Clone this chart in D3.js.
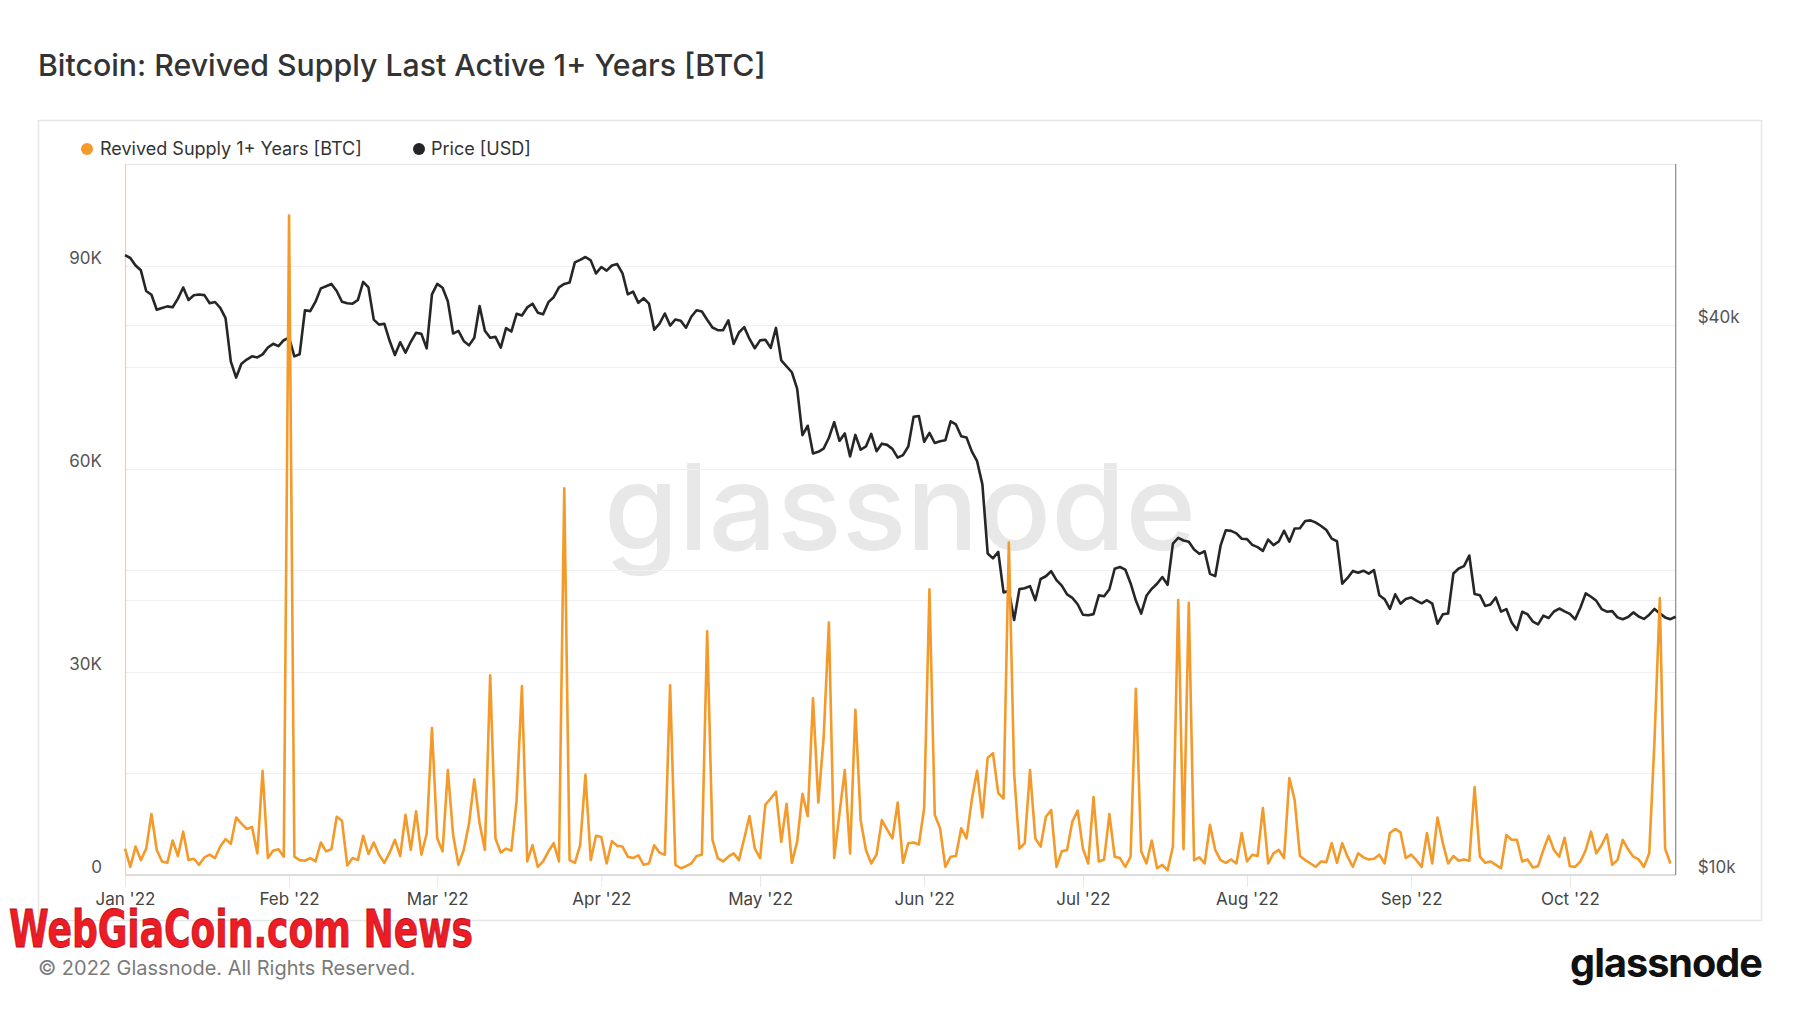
<!DOCTYPE html>
<html><head><meta charset="utf-8">
<script src="https://cdn.jsdelivr.net/npm/d3@7"></script>
<style>
body{margin:0;background:#fff;}
svg{display:block;font-family:Inter,"Noto Sans",sans-serif;}
</style>
</head><body>
<svg id="c" width="1800" height="1013"></svg>
<script>
// ---------------- DATA ----------------
const startDate = "2022-01-01";
// Revived Supply Last Active 1+ Years [BTC], daily from 2022-01-01
const revivedSupply = [
3900,1200,4200,2200,3900,9000,3700,2000,1800,5100,2800,6400,2200,2400,1500,2600,3000,2500,4200,5300,4600,8500,7600,6800,7100,3200,15400,2500,3600,3800,2700,
97400,2700,2200,2100,2500,2000,4800,3500,3800,8600,8000,1400,2500,2200,5800,3100,4800,3000,1800,3300,5200,2800,8900,3700,9400,3000,6100,21700,
5400,3500,15500,5900,1500,3700,7600,14100,7600,3700,29500,5400,3300,3900,3600,11100,27900,2000,4400,1200,2000,3500,4700,2000,57100,2200,1800,4400,14800,2200,5800,
5600,1700,5000,4300,4200,2700,2500,2900,1500,1700,4400,3300,3000,28000,1500,1000,1300,1700,2800,3000,36000,5200,2500,2000,2700,3200,2200,5400,8700,3900,
2500,10400,11300,12300,4900,10500,1800,4900,12000,8700,26100,10700,20200,37300,2500,9100,15500,3200,24400,8100,3700,1700,3000,8100,6700,5400,10700,1800,4700,4800,4500,
9900,42200,8900,6900,1200,2700,2800,6900,5400,11100,15400,8500,17300,18000,12100,11300,49100,15000,3900,4700,15500,5400,4200,8600,9600,1200,3500,3700,7900,9500,
3900,1700,11500,2000,2300,9000,2700,2500,1200,2700,27500,3500,1700,5100,1000,1500,700,4200,40600,3800,40200,2200,2600,1700,7400,3700,2200,1800,2300,1700,6200,
2000,3000,2800,9900,1700,3200,3700,2500,14300,11100,2800,2200,1700,1200,2000,1900,4700,1800,4700,2700,1200,3200,2600,2300,2400,3000,1700,6200,6800,6300,2500,
3000,2200,1200,6200,1700,8500,4700,1700,2800,2100,2300,2100,13000,2700,1800,2000,1500,1000,5900,5200,5200,2000,2300,1100,1300,3700,5800,3700,2700,5500,
1300,1200,2000,3700,6400,3200,4400,6000,1500,2200,5200,3800,2700,2300,1200,3200,20000,40900,3900,1700
];
// Price [USD], daily from 2022-01-01
const priceUSD = [
47686,47345,46458,45897,43569,43160,41558,41734,41912,41822,42736,43949,42591,43099,43177,43113,42250,42375,41744,40681,36458,35030,36276,36654,36954,36852,37138,37784,38138,37917,38483,
38743,36952,37154,41501,41412,42406,43854,44096,44348,43566,42407,42244,42197,42586,44575,43961,40538,40030,40122,38432,37075,38286,37296,38332,39214,39105,37710,43194,
44355,43925,42452,39137,39400,38420,37988,38730,41942,39422,38730,38808,37777,39672,39338,41143,40951,41801,42191,41248,41078,42358,42893,43961,44348,44500,46820,47128,47465,47063,45539,
46281,45868,46453,46622,45555,43206,43503,42287,42782,42207,39521,40127,41166,39935,40553,40424,39716,40826,41502,41374,40527,39740,39478,39470,40458,38117,39241,39773,38609,37714,
38469,38529,37750,39698,36575,36040,35501,34059,30296,31023,28936,29047,29283,30101,31306,29863,30425,28720,30315,29201,29445,30397,29098,29655,29562,29267,28627,28814,29445,31726,31792,
29799,30467,29704,29833,29907,31371,31125,30214,30112,29084,28374,26762,22487,22206,22572,20382,20471,19018,20553,20599,20711,19987,21085,21231,21502,21028,20735,20280,20104,19785,
19269,19243,19297,20231,20190,20548,21637,21731,21592,20860,19970,19323,20212,20569,20836,21190,20779,23050,23389,23231,23164,22714,22465,22609,21361,21239,22930,23843,23804,23656,23336,
23314,22978,22846,22630,23289,22961,23175,23810,23164,23948,23957,24403,24442,24305,24095,23854,23342,23191,20834,21141,21517,21416,21529,21368,21560,20241,20037,19555,20285,19812,20050,
20127,19969,19832,19986,19813,18837,19290,19329,21382,21652,21780,22371,20297,20242,19701,19772,20127,19420,19545,18891,18547,19413,19297,18937,18803,19222,19110,19426,19573,19432,
19312,19044,19623,20336,20161,19955,19546,19417,19446,19141,19051,19157,19382,19185,19067,19268,19550,19334,19139,19053,19172
];
const monthTicks = ["2022-01-01","2022-02-01","2022-03-01","2022-04-01","2022-05-01","2022-06-01","2022-07-01","2022-08-01","2022-09-01","2022-10-01"];
const monthLabels = ["Jan '22","Feb '22","Mar '22","Apr '22","May '22","Jun '22","Jul '22","Aug '22","Sep '22","Oct '22"];
const leftTicks = [0, 30000, 60000, 90000];
const leftTickLabels = ["0", "30K", "60K", "90K"];
const leftGrid = [15000, 30000, 45000, 60000, 75000, 90000];
const rightTicks = [10000, 40000];
const rightTickLabels = ["$10k", "$40k"];
const rightGrid = [20000, 40000];
const seriesNames = ["Revived Supply 1+ Years [BTC]", "Price [USD]"];

// ---------------- LAYOUT ----------------
const plot = {left: 125, right: 1675.7, top: 164, bottom: 875};
const ORANGE = "#f39a2b", BLACK = "#262626";

const svg = d3.select("#c");
const t0 = new Date(startDate + "T00:00:00Z");
const dates = priceUSD.map((_, i) => d3.utcDay.offset(t0, i));

const x = d3.scaleUtc().domain([dates[0], dates[dates.length - 1]]).range([plot.left, plot.right]);
const yL = d3.scaleLinear().domain([0, 105000]).range([plot.bottom, plot.top]);
const yR = d3.scaleLog().domain([10000, 60000]).range([plot.bottom, plot.top]);

function fit(sel, width) {
  const w = sel.node().getComputedTextLength();
  const fs = parseFloat(sel.attr("font-size"));
  sel.attr("font-size", fs * width / w);
  return fs * width / w;
}

// Title
const title = svg.append("text").attr("x", 38).attr("y", 76)
  .attr("font-size", 28).attr("fill", "#333").attr("font-weight", 500)
  .text("Bitcoin: Revived Supply Last Active 1+ Years [BTC]");
fit(title, 728);

// Outer box
svg.append("rect").attr("x", 38.5).attr("y", 120.5).attr("width", 1723).attr("height", 800)
  .attr("fill", "#fff").attr("stroke", "#e6e6e6").attr("stroke-width", 1.5);

// Watermark
const wm = svg.append("text").attr("x", 900).attr("y", 550).attr("text-anchor", "middle")
  .attr("font-size", 130).attr("font-weight", 500).attr("fill", "#e8e8e8")
  .text("glassnode");
fit(wm, 592);

// Gridlines
const grid = svg.append("g");
grid.selectAll("line.l").data(leftGrid).join("line")
  .attr("x1", plot.left).attr("x2", plot.right)
  .attr("y1", d => Math.round(yL(d)) + 0.5).attr("y2", d => Math.round(yL(d)) + 0.5)
  .attr("stroke", "#f0f0f0");
grid.selectAll("line.r").data(rightGrid).join("line")
  .attr("x1", plot.left).attr("x2", plot.right)
  .attr("y1", d => Math.round(yR(d)) + 0.5).attr("y2", d => Math.round(yR(d)) + 0.5)
  .attr("stroke", "#f0f0f0");
svg.append("line").attr("x1", plot.left).attr("x2", plot.right).attr("y1", plot.top + 0.5).attr("y2", plot.top + 0.5)
  .attr("stroke", "#e6e6e6");

// X axis
const xAxis = d3.axisBottom(x)
  .tickValues(monthTicks.map(s => new Date(s + "T00:00:00Z")))
  .tickFormat((d, i) => monthLabels[i]).tickSize(12).tickPadding(10);
const gx = svg.append("g").attr("transform", `translate(0,${plot.bottom})`).call(xAxis);
gx.select(".domain").remove();
gx.selectAll(".tick line").attr("stroke", "#e6e6e6");
gx.selectAll(".tick text").attr("font-size", 17).attr("fill", "#444").attr("font-family", "Inter,sans-serif").attr("y", 18);
svg.append("line").attr("x1", plot.left).attr("x2", plot.right).attr("y1", plot.bottom).attr("y2", plot.bottom)
  .attr("stroke", "#dcdcdc").attr("stroke-width", 2);

// Left axis
const yAxisL = d3.axisLeft(yL).tickValues(leftTicks).tickFormat((d, i) => leftTickLabels[i]).tickSize(0).tickPadding(23);
const gl = svg.append("g").attr("transform", `translate(${plot.left},0)`).call(yAxisL);
gl.select(".domain").remove();
gl.selectAll(".tick text").attr("font-size", 17).attr("fill", "#555").attr("font-family", "Inter,sans-serif").attr("y", -8);
svg.append("line").attr("x1", plot.left + 0.5).attr("x2", plot.left + 0.5).attr("y1", plot.top).attr("y2", plot.bottom)
  .attr("stroke", "#f6cf9e").attr("stroke-width", 1.2);

// Right axis
const yAxisR = d3.axisRight(yR).tickValues(rightTicks).tickFormat((d, i) => rightTickLabels[i]).tickSize(0).tickPadding(22);
const gr = svg.append("g").attr("transform", `translate(${plot.right},0)`).call(yAxisR);
gr.select(".domain").remove();
gr.selectAll(".tick text").attr("font-size", 17).attr("fill", "#555").attr("font-family", "Inter,sans-serif").attr("y", -8);
svg.append("line").attr("x1", plot.right).attr("x2", plot.right).attr("y1", plot.top).attr("y2", plot.bottom)
  .attr("stroke", "#8a8a8a").attr("stroke-width", 1.2);

// Lines
const priceLine = d3.line().x((d, i) => x(dates[i])).y(d => yR(d));
const supplyLine = d3.line().x((d, i) => x(dates[i])).y(d => yL(d));
svg.append("path").datum(priceUSD).attr("d", priceLine)
  .attr("fill", "none").attr("stroke", BLACK).attr("stroke-width", 2.6).attr("stroke-linejoin", "round");
svg.append("path").datum(revivedSupply).attr("d", supplyLine)
  .attr("fill", "none").attr("stroke", ORANGE).attr("stroke-width", 2.6).attr("stroke-linejoin", "round");

// Legend
const leg = svg.append("g");
leg.append("circle").attr("cx", 87).attr("cy", 149).attr("r", 6).attr("fill", ORANGE);
const l1 = leg.append("text").attr("x", 100).attr("y", 155).attr("font-size", 17).attr("fill", "#333").text(seriesNames[0]);
const lfs = fit(l1, 262);
leg.append("circle").attr("cx", 419).attr("cy", 149).attr("r", 6).attr("fill", BLACK);
leg.append("text").attr("x", 431).attr("y", 155).attr("font-size", lfs).attr("fill", "#333").text(seriesNames[1]);

// Footer
const foot = svg.append("text").attr("x", 38).attr("y", 975).attr("font-size", 19).attr("fill", "#7a7a7a")
  .text("© 2022 Glassnode. All Rights Reserved.");
fit(foot, 378);
const logo = svg.append("text").attr("x", 1762).attr("y", 977).attr("text-anchor", "end")
  .attr("font-size", 40).attr("font-weight", 700).attr("fill", "#111").attr("letter-spacing", -1)
  .text("glassnode");
fit(logo, 192);

// Overlay caption
svg.append("text").attr("x", 9).attr("y", 947).attr("font-family", "'Liberation Sans Narrow','DejaVu Sans Condensed',sans-serif")
  .attr("font-weight", 700).attr("font-size", 52).attr("fill", "#ee1c24").attr("stroke", "#b0101a").attr("stroke-width", 0.8)
  .attr("textLength", 464).attr("lengthAdjust", "spacingAndGlyphs")
  .text("WebGiaCoin.com News");
</script>
</body></html>
